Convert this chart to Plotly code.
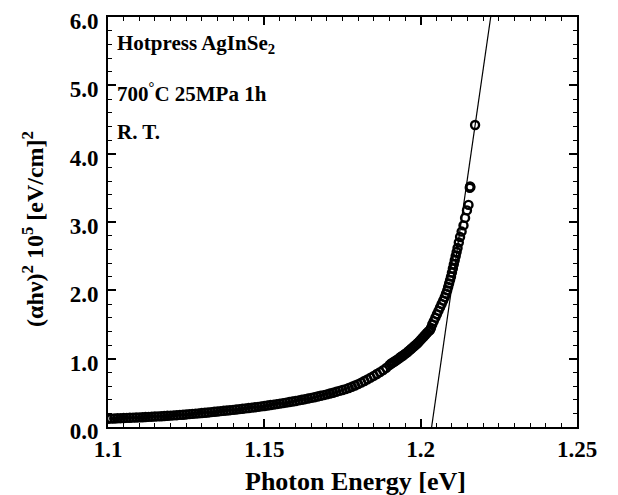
import plotly.graph_objects as go

# measured absorption data, (alpha h nu)^2 in units of 1e5 [eV/cm]^2
energy = [
    1.100, 1.101, 1.102, 1.103, 1.104, 1.105, 1.106, 1.107, 1.108, 1.109,
    1.110, 1.111, 1.112, 1.113, 1.114, 1.115, 1.116, 1.117, 1.118, 1.119,
    1.120, 1.121, 1.122, 1.123, 1.124, 1.125, 1.126, 1.127, 1.128, 1.129,
    1.130, 1.131, 1.132, 1.133, 1.134, 1.135, 1.136, 1.137, 1.138, 1.139,
    1.140, 1.141, 1.142, 1.143, 1.144, 1.145, 1.146, 1.147, 1.148, 1.149,
    1.150, 1.151, 1.152, 1.153, 1.154, 1.155, 1.156, 1.157, 1.158, 1.159,
    1.160, 1.161, 1.162, 1.163, 1.164, 1.165, 1.166, 1.167, 1.168, 1.169,
    1.170, 1.171, 1.172, 1.173, 1.174, 1.175, 1.176, 1.177, 1.178, 1.179,
    1.180, 1.181, 1.182, 1.183, 1.184, 1.185, 1.186, 1.187, 1.188, 1.189,
    1.190,
    1.1905, 1.1910, 1.1915, 1.1920, 1.1925, 1.1930, 1.1935, 1.1940, 1.1945,
    1.1950, 1.1955, 1.1960, 1.1965, 1.1970, 1.1975, 1.1980, 1.1985, 1.1990, 1.1995,
    1.2000, 1.2005, 1.2010, 1.2015, 1.2020, 1.2025, 1.2030, 1.2033, 1.2037, 1.2042,
    1.2047, 1.2052, 1.2057, 1.2062, 1.2067, 1.2072, 1.2077, 1.2081, 1.2085, 1.2088,
    1.2091, 1.2094, 1.2097, 1.2100, 1.2103, 1.2106, 1.2109, 1.2112, 1.2115, 1.2118,
    1.2122, 1.2126, 1.2131, 1.2137, 1.2142, 1.2148, 1.2153, 1.2157, 1.2158, 1.2159,
    1.2174,
]
alpha_hv2 = [
    0.120, 0.122, 0.124, 0.127, 0.129, 0.131, 0.133, 0.135, 0.137, 0.139,
    0.141, 0.143, 0.146, 0.148, 0.151, 0.153, 0.156, 0.158, 0.161, 0.164,
    0.167, 0.170, 0.173, 0.177, 0.180, 0.184, 0.188, 0.192, 0.196, 0.200,
    0.205, 0.209, 0.213, 0.218, 0.223, 0.227, 0.232, 0.237, 0.241, 0.246,
    0.251, 0.256, 0.261, 0.266, 0.272, 0.277, 0.283, 0.289, 0.295, 0.302,
    0.308, 0.315, 0.322, 0.328, 0.335, 0.342, 0.350, 0.357, 0.365, 0.373,
    0.381, 0.390, 0.398, 0.407, 0.416, 0.426, 0.436, 0.446, 0.457, 0.467,
    0.478, 0.490, 0.502, 0.515, 0.528, 0.541, 0.555, 0.570, 0.588, 0.607,
    0.628, 0.650, 0.673, 0.697, 0.722, 0.748, 0.775, 0.803, 0.832, 0.865,
    0.905,
    0.925, 0.940, 0.955, 0.970, 0.985, 1.000, 1.020, 1.035, 1.050,
    1.070, 1.085, 1.105, 1.125, 1.145, 1.165, 1.185, 1.205, 1.225, 1.250,
    1.275, 1.300, 1.325, 1.350, 1.375, 1.400, 1.420, 1.450, 1.500, 1.550,
    1.600, 1.650, 1.700, 1.750, 1.800, 1.850, 1.900, 1.950, 2.000, 2.050,
    2.100, 2.150, 2.200, 2.260, 2.320, 2.380, 2.440, 2.500, 2.560, 2.620,
    2.700, 2.780, 2.860, 2.950, 3.060, 3.170, 3.250, 3.500, 3.520, 3.510,
    4.420,
]

# linear fit to the absorption edge
fit_energy = [1.2035, 1.2224]
fit_value = [0.0, 6.0]

x_ticks = [1.1, 1.15, 1.2, 1.25]
x_tick_text = ["1.1", "1.15", "1.2", "1.25"]
y_ticks = [0, 1, 2, 3, 4, 5, 6]
y_tick_text = ["0.0", "1.0", "2.0", "3.0", "4.0", "5.0", "6.0"]

serif = "Liberation Serif"

fig = go.Figure()
fig.add_trace(go.Scatter(
    x=fit_energy, y=fit_value, mode="lines",
    line=dict(color="black", width=1.2), showlegend=False
))
fig.add_trace(go.Scatter(
    x=energy, y=alpha_hv2, mode="markers",
    marker=dict(symbol="circle-open", size=8, color="black", line=dict(width=2.4)),
    showlegend=False
))

axis_common = dict(
    showline=True, linecolor="black", linewidth=2, mirror="ticks",
    ticks="inside", ticklen=8, tickwidth=1.5, tickcolor="black",
    showgrid=False, zeroline=False, automargin=False,
    ticklabeloverflow="allow",
    tickfont=dict(family=serif, size=23, color="black", weight="bold"),
)

fig.update_xaxes(
    range=[1.1, 1.25], tickvals=x_ticks, ticktext=x_tick_text,
    minor=dict(dtick=0.005, ticks="inside", ticklen=4, tickwidth=1.2, tickcolor="black"),
    ticklabelstandoff=0,
    **axis_common
)
fig.update_yaxes(
    range=[0, 6], tickvals=y_ticks, ticktext=y_tick_text,
    minor=dict(dtick=0.2, ticks="inside", ticklen=4, tickwidth=1.2, tickcolor="black"),
    ticklabelstandoff=3, ticklabelshift=4,
    **axis_common
)

notes = [
    ("Hotpress AgInSe<sub>2</sub>", 0.935),
    ("700<sup>°</sup>C 25MPa 1h", 0.815),
    ("R. T.", 0.72),
]
for txt, yy in notes:
    fig.add_annotation(
        text=txt, xref="paper", yref="paper", x=0.015, y=yy,
        xanchor="left", yanchor="middle", showarrow=False,
        font=dict(family=serif, size=21, color="black", weight="bold"),
    )

fig.add_annotation(
    text="(αhν)<sup>2</sup> 10<sup>5</sup> [eV/cm]<sup>2</sup>",
    xref="paper", yref="paper", x=-0.16, y=0.483, textangle=-90,
    xanchor="center", yanchor="middle", showarrow=False,
    font=dict(family=serif, size=24, color="black", weight="bold"),
)
fig.add_annotation(
    text="Photon Energy [eV]",
    xref="paper", yref="paper", x=0.527, y=-0.134,
    xanchor="center", yanchor="middle", showarrow=False,
    font=dict(family=serif, size=26, color="black", weight="bold"),
)

# page body adds an 8px offset, so margins are shifted to keep the plot box in place
fig.update_layout(
    width=618, height=495,
    margin=dict(l=100, r=49, t=9, b=76),
    plot_bgcolor="white", paper_bgcolor="white",
)

fig.write_html("out.html")
